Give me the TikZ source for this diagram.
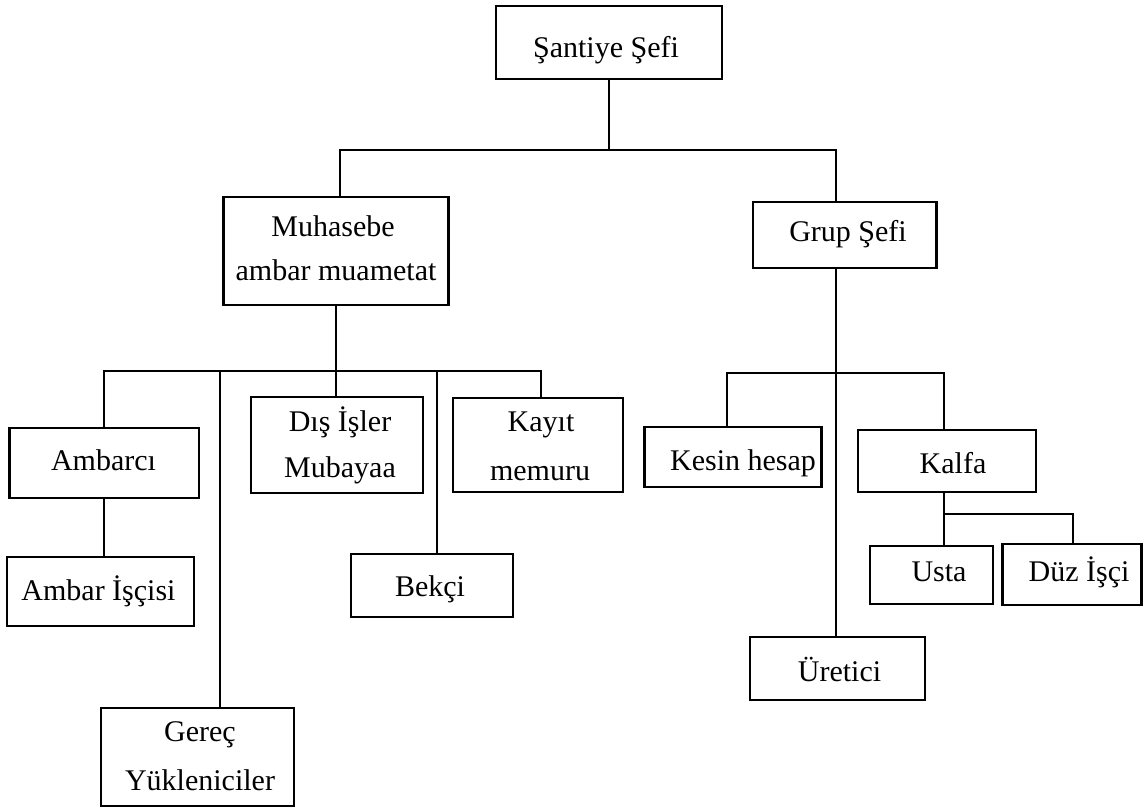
\documentclass[tikz,border=0pt]{standalone}
\usepackage{fontspec}
\setmainfont{Liberation Serif}
\begin{document}
\begin{tikzpicture}[x=1pt,y=-1pt,
  box/.style={draw=black,line width=2.6pt,minimum width=#1,inner sep=0pt},
  lbl/.style={anchor=base,inner sep=0pt,font=\fontsize{30}{36}\selectfont},
  conn/.style={draw=black,line width=2.3pt}]
\useasboundingbox (0,0) rectangle (1145,809);

% boxes
\node[box=226pt,minimum height=73pt]   (sant)  at (609,42.5)   {};
\node[box=224.5pt,minimum height=108pt](muh)   at (336,251)    {};
\node[box=183.5pt,minimum height=66pt] (grup)  at (844.75,235) {};
\node[box=189.4pt,minimum height=70pt] (amb)   at (104.3,463)  {};
\node[box=172pt,minimum height=96pt]   (dis)   at (337,445)    {};
\node[box=170pt,minimum height=94pt]   (kayit) at (538,445)    {};
\node[box=177.5pt,minimum height=60pt] (kesin) at (733,457)    {};
\node[box=178pt,minimum height=62pt]   (kalfa) at (947,461)    {};
\node[box=187pt,minimum height=69pt]   (isci)  at (100.5,591.5){};
\node[box=162pt,minimum height=63pt]   (bekci) at (432,585.5)  {};
\node[box=193pt,minimum height=98pt]   (gerec) at (197.5,757)  {};
\node[box=123pt,minimum height=58pt]   (usta)  at (931.5,575)  {};
\node[box=139pt,minimum height=61pt]   (duz)   at (1072,574.5) {};
\node[box=175pt,minimum height=63pt]   (uret)  at (837.5,668.5){};

% labels
\node[lbl] (sant-t)  at (606,57)      {Şantiye Şefi};
\node[lbl] (muh-t1)  at (333,236)     {Muhasebe};
\node[lbl] (muh-t2)  at (336,280)     {ambar muametat};
\node[lbl] (grup-t)  at (848,241.7)   {Grup Şefi};
\node[lbl] (amb-t)   at (103.5,470)   {Ambarcı};
\node[lbl] (dis-t1)  at (340,431.7)   {Dış İşler};
\node[lbl] (dis-t2)  at (340,477.7)   {Mubayaa};
\node[lbl] (kay-t1)  at (541,431.7)   {Kayıt};
\node[lbl] (kay-t2)  at (540,480)     {memuru};
\node[lbl] (kes-t)   at (743,470)     {Kesin hesap};
\node[lbl] (kal-t)   at (953,473.3)   {Kalfa};
\node[lbl] (isci-t)  at (98.5,600)    {Ambar İşçisi};
\node[lbl] (bek-t)   at (430,596.7)   {Bekçi};
\node[lbl] (ger-t1)  at (200,741.7)   {Gereç};
\node[lbl] (ger-t2)  at (200,790.7)   {Yükleniciler};
\node[lbl] (usta-t)  at (939,581.7)   {Usta};
\node[lbl] (duz-t)   at (1079,581.7)  {Düz İşçi};
\node[lbl] (uret-t)  at (839.5,681.7) {Üretici};

% junction points of the bars
\coordinate (topL) at (340,150);
\coordinate (topR) at (836,150);
\coordinate (mL)   at (104,371);
\coordinate (mG)   at (220,371);
\coordinate (mB)   at (437,371);
\coordinate (mR)   at (541,371);
\coordinate (gL)   at (727,373);
\coordinate (gR)   at (944,373);
\coordinate (kR)   at (1073,514);

% top level
\draw[conn] (sant.south) -- (sant.south |- topL);
\draw[conn] (muh.north -| topL) -- (topL) -- (topR) -- (grup.north -| topR);

% Muhasebe branch
\draw[conn] (muh.south) -- (dis.north -| muh.south);
\draw[conn] (amb.north -| mL) -- (mL) -- (mR) -- (kayit.north -| mR);
\draw[conn] (mG) -- (gerec.north -| mG);
\draw[conn] (mB) -- (bekci.north -| mB);
\draw[conn] (amb.south) -- (amb.south |- isci.north);

% Grup Şefi branch
\draw[conn] (grup.south -| topR) -- (uret.north -| topR);
\draw[conn] (kesin.north -| gL) -- (gL) -- (gR) -- (kalfa.north -| gR);
\draw[conn] (kalfa.south -| gR) -- (usta.north -| gR);
\draw[conn] (kalfa.south -| gR) |- (kR) -- (duz.north -| kR);
\end{tikzpicture}
\end{document}
